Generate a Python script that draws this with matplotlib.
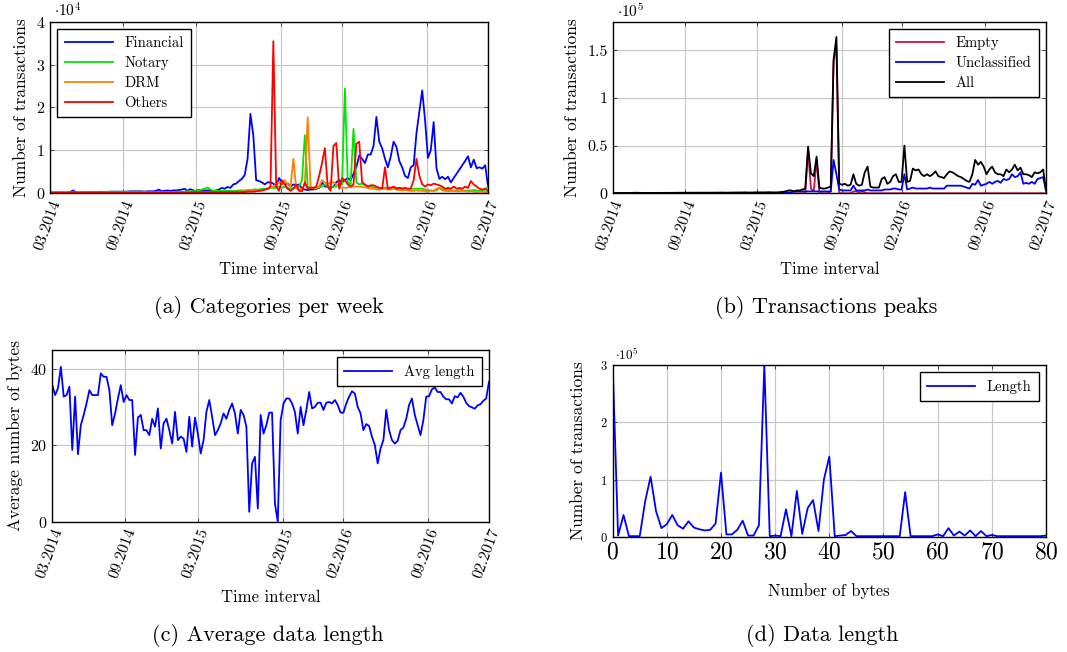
import matplotlib
matplotlib.use("Agg")
import matplotlib.pyplot as plt
import numpy as np

# fonts: computer modern look
plt.rcParams['font.family'] = 'serif'
plt.rcParams['font.serif'] = ['cmr10', 'DejaVu Serif']
plt.rcParams['mathtext.fontset'] = 'cm'
plt.rcParams['axes.formatter.use_mathtext'] = True

# ---- data (weekly, 03.2014 .. 02.2017) ----
date_labels = ['03.2014', '09.2014', '03.2015', '09.2015', '02.2016', '09.2016', '02.2017']
date_ticks = [0, 25.5, 51, 80.8, 102, 131.6, 153]

# panel (a), values in 1e4 transactions
financial = [
    0.01, 0.01, 0.01, 0.01, 0.01, 0.01, 0.01, 0.02, 0.06, 0.02,
    0.01, 0.01, 0.02, 0.02, 0.02, 0.02, 0.02, 0.02, 0.03, 0.02,
    0.02, 0.03, 0.03, 0.03, 0.03, 0.03, 0.03, 0.03, 0.04, 0.04,
    0.04, 0.04, 0.04, 0.03, 0.04, 0.04, 0.04, 0.05, 0.08, 0.04,
    0.05, 0.06, 0.05, 0.06, 0.06, 0.07, 0.08, 0.1, 0.05, 0.09,
    0.06, 0.05, 0.07, 0.06, 0.06, 0.06, 0.06, 0.05, 0.06, 0.08,
    0.12, 0.1, 0.14, 0.12, 0.2, 0.22, 0.28, 0.33, 0.42, 0.8,
    1.85, 1.35, 0.3, 0.28, 0.25, 0.2, 0.25, 0.25, 0.22, 0.15,
    0.35, 0.25, 0.2, 0.22, 0.15, 0.2, 0.18, 0.2, 0.1, 0.08,
    0.07, 0.08, 0.08, 0.1, 0.12, 0.25, 0.15, 0.15, 0.12, 0.15,
    0.25, 0.3, 0.25, 0.3, 0.35, 0.3, 0.45, 0.6, 0.88, 0.8,
    0.7, 0.9, 0.9, 1.1, 1.78, 1.2, 1.05, 0.8, 0.6, 0.85,
    1.2, 1.08, 0.75, 0.6, 0.4, 0.35, 0.6, 0.65, 1.4, 1.9,
    2.4, 1.7, 0.82, 1.0, 1.66, 0.58, 0.33, 0.38, 0.32, 0.38,
    0.25, 0.35, 0.45, 0.55, 0.65, 0.75, 0.86, 0.6, 0.78, 0.58,
    0.6, 0.57, 0.65, 0.15]
notary = [
    0.01, 0.01, 0.01, 0.01, 0.01, 0.01, 0.01, 0.01, 0.01, 0.01,
    0.02, 0.02, 0.02, 0.02, 0.02, 0.02, 0.02, 0.02, 0.02, 0.02,
    0.03, 0.03, 0.03, 0.03, 0.03, 0.03, 0.03, 0.03, 0.03, 0.03,
    0.03, 0.03, 0.03, 0.03, 0.02, 0.02, 0.02, 0.02, 0.02, 0.02,
    0.02, 0.02, 0.02, 0.02, 0.03, 0.03, 0.03, 0.03, 0.04, 0.04,
    0.04, 0.05, 0.06, 0.08, 0.1, 0.13, 0.08, 0.05, 0.05, 0.05,
    0.05, 0.05, 0.05, 0.05, 0.05, 0.05, 0.06, 0.06, 0.06, 0.07,
    0.07, 0.08, 0.08, 0.08, 0.1, 0.1, 0.1, 0.12, 0.12, 0.12,
    0.15, 0.12, 0.15, 0.12, 0.1, 0.12, 0.13, 0.15, 0.3, 1.35,
    0.15, 0.13, 0.12, 0.12, 0.13, 0.15, 0.2, 0.15, 0.14, 0.15,
    0.15, 0.18, 0.2, 2.44, 0.25, 0.2, 1.5, 0.25, 0.2, 0.22,
    0.18, 0.15, 0.15, 0.13, 0.12, 0.12, 0.12, 0.12, 0.13, 0.12,
    0.12, 0.12, 0.12, 0.11, 0.1, 0.1, 0.1, 0.1, 0.1, 0.1,
    0.1, 0.08, 0.07, 0.06, 0.05, 0.06, 0.12, 0.1, 0.08, 0.07,
    0.06, 0.05, 0.06, 0.07, 0.06, 0.05, 0.06, 0.06, 0.07, 0.06,
    0.05, 0.05, 0.08, 0.15]
drm = [
    0.01, 0.01, 0.01, 0.01, 0.01, 0.01, 0.01, 0.01, 0.01, 0.01,
    0.01, 0.01, 0.01, 0.01, 0.01, 0.01, 0.01, 0.01, 0.01, 0.01,
    0.01, 0.01, 0.01, 0.01, 0.01, 0.01, 0.01, 0.01, 0.01, 0.01,
    0.01, 0.01, 0.01, 0.01, 0.01, 0.01, 0.01, 0.01, 0.01, 0.01,
    0.01, 0.01, 0.01, 0.01, 0.01, 0.01, 0.01, 0.01, 0.01, 0.01,
    0.02, 0.02, 0.02, 0.02, 0.02, 0.02, 0.02, 0.02, 0.02, 0.02,
    0.02, 0.02, 0.02, 0.03, 0.03, 0.03, 0.03, 0.04, 0.04, 0.05,
    0.05, 0.08, 0.04, 0.05, 0.06, 0.08, 0.1, 0.12, 0.15, 0.2,
    0.25, 0.2, 0.3, 0.2, 0.15, 0.8, 0.1, 0.08, 0.1, 0.2,
    1.77, 0.15, 0.1, 0.12, 0.15, 0.3, 0.25, 0.2, 0.25, 0.25,
    0.2, 0.15, 0.12, 0.12, 0.13, 0.14, 0.15, 0.15, 0.15, 0.14,
    0.13, 0.12, 0.1, 0.1, 0.08, 0.08, 0.1, 0.1, 0.08, 0.08,
    0.1, 0.08, 0.07, 0.06, 0.07, 0.06, 0.05, 0.05, 0.06, 0.05,
    0.05, 0.04, 0.04, 0.05, 0.05, 0.1, 0.12, 0.06, 0.05, 0.04,
    0.05, 0.05, 0.04, 0.04, 0.05, 0.04, 0.03, 0.04, 0.03, 0.02,
    0.03, 0.03, 0.02, 0.03]
others = [
    0.01, 0.01, 0.01, 0.01, 0.01, 0.01, 0.01, 0.01, 0.01, 0.01,
    0.01, 0.01, 0.01, 0.01, 0.01, 0.01, 0.01, 0.01, 0.01, 0.01,
    0.01, 0.01, 0.01, 0.01, 0.01, 0.01, 0.01, 0.01, 0.01, 0.01,
    0.01, 0.01, 0.01, 0.01, 0.01, 0.01, 0.01, 0.01, 0.01, 0.01,
    0.01, 0.01, 0.01, 0.01, 0.01, 0.01, 0.01, 0.01, 0.01, 0.01,
    0.02, 0.02, 0.02, 0.02, 0.02, 0.02, 0.02, 0.02, 0.02, 0.02,
    0.02, 0.02, 0.02, 0.02, 0.02, 0.02, 0.02, 0.02, 0.02, 0.03,
    0.03, 0.03, 0.04, 0.05, 0.06, 0.08, 0.1, 0.15, 3.55, 0.15,
    0.05, 0.3, 0.2, 0.1, 0.05, 0.1, 0.2, 0.05, 0.04, 0.25,
    0.1, 0.12, 0.12, 0.15, 0.4, 0.7, 1.05, 0.15, 0.05, 1.1,
    1.17, 0.1, 0.35, 0.3, 0.2, 0.15, 0.2, 1.15, 1.2, 0.25,
    0.2, 0.15, 0.18, 0.18, 0.15, 0.12, 0.1, 0.6, 0.1, 0.12,
    0.15, 0.1, 0.12, 0.1, 0.12, 0.1, 0.1, 0.3, 0.8, 0.4,
    0.2, 0.15, 0.2, 0.18, 0.22, 0.2, 0.18, 0.15, 0.1, 0.12,
    0.1, 0.15, 0.1, 0.12, 0.1, 0.15, 0.12, 0.28, 0.2, 0.15,
    0.1, 0.08, 0.1, 0.05]

# panel (b), values in 1e5 transactions
empty = [
    0, 0, 0, 0, 0, 0, 0, 0, 0, 0,
    0, 0, 0, 0, 0, 0, 0, 0, 0, 0,
    0, 0, 0, 0, 0, 0, 0, 0, 0, 0,
    0, 0, 0, 0, 0, 0, 0, 0, 0, 0,
    0, 0, 0, 0, 0, 0, 0, 0, 0, 0,
    0, 0, 0, 0, 0, 0, 0, 0, 0, 0,
    0, 0, 0, 0, 0, 0, 0, 0, 0, 0.45,
    0.05, 0.02, 0.35, 0, 0, 0, 0, 0.02, 1.38, 1.55,
    0, 0, 0, 0, 0, 0.02, 0.02, 0.01, 0.02, 0.01,
    0, 0, 0, 0, 0, 0, 0, 0, 0, 0,
    0, 0, 0, 0, 0, 0, 0, 0, 0, 0,
    0, 0, 0, 0, 0, 0, 0, 0, 0, 0,
    0, 0, 0, 0, 0, 0, 0, 0, 0, 0,
    0, 0, 0, 0, 0, 0, 0, 0, 0, 0,
    0, 0, 0, 0, 0, 0, 0, 0, 0, 0,
    0, 0, 0, 0]
unclassified = [
    0, 0, 0, 0, 0, 0, 0, 0, 0, 0,
    0, 0, 0, 0, 0, 0, 0, 0, 0, 0,
    0, 0, 0, 0, 0, 0, 0, 0, 0, 0,
    0, 0, 0, 0, 0, 0, 0, 0, 0, 0,
    0, 0, 0, 0, 0, 0, 0, 0, 0, 0,
    0, 0, 0, 0, 0, 0, 0, 0, 0, 0,
    0.01, 0.01, 0.01, 0.01, 0.02, 0.02, 0.02, 0.02, 0.02, 0.02,
    0.02, 0.02, 0.02, 0.02, 0.02, 0.02, 0.02, 0.02, 0.35, 0.2,
    0.04, 0.03, 0.03, 0.03, 0.03, 0.08, 0.03, 0.03, 0.03, 0.03,
    0.04, 0.03, 0.03, 0.03, 0.03, 0.03, 0.04, 0.04, 0.04, 0.05,
    0.05, 0.04, 0.04, 0.2, 0.04, 0.05, 0.06, 0.05, 0.05, 0.05,
    0.05, 0.05, 0.06, 0.05, 0.05, 0.05, 0.05, 0.05, 0.08, 0.08,
    0.08, 0.08, 0.08, 0.08, 0.07, 0.06, 0.05, 0.1, 0.09, 0.14,
    0.08, 0.09, 0.1, 0.12, 0.1, 0.12, 0.13, 0.11, 0.15, 0.14,
    0.15, 0.2, 0.17, 0.18, 0.22, 0.1, 0.11, 0.1, 0.12, 0.1,
    0.15, 0.16, 0.17, 0.03]
all_tx = [
    0.003, 0.003, 0.003, 0.004, 0.004, 0.004, 0.004, 0.005, 0.006, 0.005,
    0.004, 0.004, 0.004, 0.005, 0.005, 0.005, 0.005, 0.005, 0.005, 0.005,
    0.005, 0.005, 0.006, 0.006, 0.006, 0.006, 0.006, 0.006, 0.006, 0.006,
    0.006, 0.006, 0.006, 0.006, 0.007, 0.007, 0.007, 0.007, 0.008, 0.007,
    0.007, 0.008, 0.008, 0.008, 0.008, 0.009, 0.009, 0.01, 0.008, 0.009,
    0.01, 0.01, 0.01, 0.01, 0.01, 0.012, 0.01, 0.01, 0.01, 0.012,
    0.015, 0.02, 0.03, 0.03, 0.02, 0.03, 0.03, 0.04, 0.05, 0.49,
    0.21, 0.18, 0.385, 0.06, 0.05, 0.05, 0.06, 0.07, 1.40, 1.64,
    0.1, 0.09, 0.1, 0.08, 0.09, 0.2, 0.1, 0.08, 0.09, 0.22,
    0.28, 0.07, 0.06, 0.06, 0.06, 0.15, 0.17, 0.1, 0.12, 0.18,
    0.2, 0.12, 0.12, 0.5, 0.12, 0.13, 0.26, 0.24, 0.25, 0.2,
    0.18, 0.2, 0.18, 0.2, 0.23, 0.18, 0.17, 0.16, 0.2, 0.23,
    0.22, 0.2, 0.18, 0.17, 0.15, 0.13, 0.12, 0.2, 0.35, 0.3,
    0.33, 0.28, 0.2, 0.25, 0.28, 0.22, 0.2, 0.2, 0.18, 0.25,
    0.22, 0.25, 0.3, 0.24, 0.27, 0.2, 0.2, 0.19, 0.17, 0.22,
    0.21, 0.22, 0.25, 0.03]

# panel (c), average bytes
avg_length = [
    35.8, 33.2, 35.0, 40.6, 32.8, 33.2, 35.4, 18.8, 32.8, 17.7,
    25.3, 28.0, 31.0, 34.5, 33.2, 33.2, 33.2, 38.9, 38.0, 38.0,
    34.5, 25.3, 28.4, 32.3, 35.8, 31.4, 33.2, 31.9, 31.9, 17.5,
    27.3, 28.0, 24.0, 24.0, 22.7, 27.0, 24.9, 29.7, 19.2, 25.8,
    27.0, 24.0, 20.5, 28.8, 21.4, 22.3, 21.8, 18.3, 27.5, 19.7,
    27.3, 23.1, 17.9, 21.4, 28.8, 31.9, 27.5, 22.7, 24.0, 25.8,
    28.4, 27.0, 29.3, 31.0, 28.4, 23.1, 29.3, 28.0, 24.9, 2.6,
    15.3, 17.0, 3.5, 28.0, 23.1, 25.3, 28.6, 28.6, 4.8, 0.0,
    26.6, 31.0, 32.3, 32.3, 31.0, 28.8, 23.1, 30.1, 25.3, 29.3,
    34.0, 29.7, 30.1, 31.2, 31.2, 29.3, 31.2, 31.4, 31.0, 31.9,
    30.6, 28.6, 28.6, 31.0, 32.8, 34.2, 33.6, 30.1, 28.4, 24.0,
    25.6, 25.1, 22.3, 20.1, 15.3, 19.2, 21.4, 29.3, 24.0, 21.4,
    20.5, 21.2, 24.0, 24.7, 27.0, 30.6, 32.3, 28.0, 25.3, 22.7,
    26.6, 32.8, 32.9, 34.7, 35.2, 34.0, 34.0, 32.8, 32.1, 32.1,
    31.0, 32.9, 32.6, 33.8, 32.8, 31.2, 30.3, 30.0, 29.6, 30.5,
    30.8, 31.7, 32.3, 36.7]

# panel (d), transactions per data length (1e5)
n_bytes = list(range(81))
length_count = [
    3.0, 0.02, 0.38, 0.01, 0.01, 0.01, 0.62, 1.05, 0.45, 0.15,
    0.22, 0.38, 0.2, 0.14, 0.27, 0.16, 0.13, 0.11, 0.12, 0.23,
    1.12, 0.04, 0.04, 0.12, 0.28, 0.02, 0.02, 0.2, 3.0, 0.01,
    0.02, 0.01, 0.48, 0.01, 0.8, 0.05, 0.5, 0.64, 0.1, 1.0,
    1.4, 0.01, 0.02, 0.03, 0.1, 0.01, 0.01, 0.01, 0.01, 0.01,
    0.01, 0.01, 0.01, 0.01, 0.78, 0.01, 0.01, 0.01, 0.01, 0.01,
    0.04, 0.01, 0.15, 0.02, 0.09, 0.02, 0.11, 0.01, 0.1, 0.01,
    0.03, 0.01, 0.01, 0.01, 0.01, 0.01, 0.01, 0.01, 0.01, 0.01,
    0.02]

weeks = np.arange(len(financial))

fig = plt.figure(figsize=(10.67, 6.52), dpi=100)

def style(ax):
    ax.grid(True, color='#c8c8c8', lw=0.9)
    ax.set_axisbelow(True)
    ax.tick_params(direction='in', top=True, right=True, length=3, width=0.7,
                   color='#444444')
    for s in ax.spines.values():
        s.set_linewidth(1.0)

def time_axis(ax):
    ax.set_xlim(0, len(weeks) - 1)
    ax.set_xticks(date_ticks)
    ax.set_xticklabels(date_labels, rotation=70, ha='right', va='top',
                       rotation_mode='anchor', fontsize=11.5)
    ax.set_xlabel('Time interval', fontsize=12, labelpad=7)

def leg(ax, loc):
    l = ax.legend(loc=loc, fontsize=10.5, handlelength=3.3, fancybox=False,
                  framealpha=1, edgecolor='black', borderpad=0.5,
                  labelspacing=0.42)
    l.get_frame().set_linewidth(1.0)

# (a)
ax = fig.add_axes([0.0469, 0.704, 0.4105, 0.2623])
ax.plot(weeks, financial, color='#0000ff', lw=1.3, label='Financial')
ax.plot(weeks, notary, color='#00e600', lw=1.3, label='Notary')
ax.plot(weeks, drm, color='#ff8000', lw=1.3, label='DRM')
ax.plot(weeks, others, color='#ff0000', lw=1.3, label='Others')
ax.set_ylim(0, 4)
ax.set_yticks([0, 1, 2, 3, 4])
ax.tick_params(axis='y', labelsize=11.5)
style(ax)
time_axis(ax)
ax.set_ylabel('Number of transactions', fontsize=12.5, labelpad=5)
ax.text(0.01, 1.03, r'$\cdot 10^4$', transform=ax.transAxes, fontsize=11)
leg(ax, 'upper left')

# (b)
ax = fig.add_axes([0.5742, 0.7035, 0.4061, 0.2632])
ax.plot(weeks, empty, color='#c8104a', lw=1.3, label='Empty')
ax.plot(weeks, unclassified, color='#0000ff', lw=1.3, label='Unclassified')
ax.plot(weeks, all_tx, color='black', lw=1.3, label='All')
ax.set_ylim(0, 1.8)
ax.set_yticks([0, 0.5, 1, 1.5])
ax.set_yticklabels(['0', '0.5', '1', '1.5'])
ax.tick_params(axis='y', labelsize=11.5)
style(ax)
time_axis(ax)
ax.set_ylabel('Number of transactions', fontsize=12.5, labelpad=5)
ax.text(0.01, 1.03, r'$\cdot 10^5$', transform=ax.transAxes, fontsize=11)
leg(ax, 'upper right')

# (c)
ax = fig.add_axes([0.049, 0.1998, 0.4093, 0.2633])
ax.plot(weeks, avg_length, color='#0000ff', lw=1.3, label='Avg length')
ax.set_ylim(0, 45)
ax.set_yticks([0, 20, 40])
ax.tick_params(axis='y', labelsize=11.5)
style(ax)
time_axis(ax)
ax.set_ylabel('Average number of bytes', fontsize=12.5, labelpad=5)
leg(ax, 'upper right')

# (d)
ax = fig.add_axes([0.5742, 0.1768, 0.4061, 0.2633])
ax.plot(n_bytes, length_count, color='#0000ff', lw=1.3, label='Length')
ax.set_xlim(0, 80)
ax.set_ylim(0, 3)
ax.set_xticks(range(0, 81, 10))
ax.set_yticks([0, 1, 2, 3])
ax.tick_params(axis='x', labelsize=17)
ax.tick_params(axis='y', labelsize=9)
style(ax)
ax.set_xlabel('Number of bytes', fontsize=12, labelpad=14)
ax.set_ylabel('Number of transactions', fontsize=12.5, labelpad=10)
ax.text(0.005, 1.03, r'$\cdot 10^5$', transform=ax.transAxes, fontsize=9.5)
leg(ax, 'upper right')

# captions
fig.text(0.252, 0.529, '(a) Categories per week', ha='center', va='center', fontsize=16)
fig.text(0.774, 0.529, '(b) Transactions peaks', ha='center', va='center', fontsize=16)
fig.text(0.251, 0.025, '(c) Average data length', ha='center', va='center', fontsize=16)
fig.text(0.771, 0.025, '(d) Data length', ha='center', va='center', fontsize=16)

fig.savefig('out.png', dpi=100)
